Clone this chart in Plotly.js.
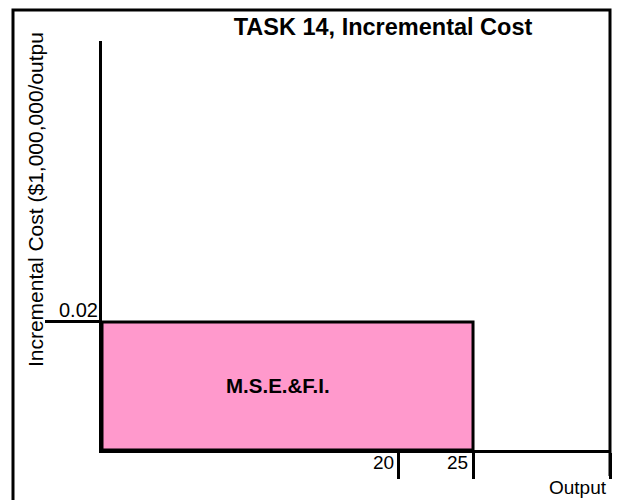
<!DOCTYPE html>
<html>
<head>
<meta charset="utf-8">
<script src="https://cdn.plot.ly/plotly-3.0.1.min.js"></script>
<style>html,body{margin:0;padding:0;background:#fff;}#chart{width:618px;height:500px;}</style>
</head>
<body>
<div id="chart"></div>
<script>
// Data
const segStart = [0];
const segEnd = [25];
const segCost = [0.02];
const segLabels = ['M.S.E.&F.I.'];
const xTickVals = [20, 25];
const xTickText = ['20', '25'];
const yTickVals = [0.02];
const yTickText = ['0.02'];
const xMax = 34.23;
const yMax = 0.0639;

const FONT = 'Liberation Sans, Arial, sans-serif';

const mid = segStart.map((s, i) => (s + segEnd[i]) / 2);
const widths = segStart.map((s, i) => segEnd[i] - s);

const trace = {
  type: 'bar',
  x: mid,
  y: segCost,
  width: widths,
  base: 0,
  marker: { color: '#FF99CC', line: { color: '#000', width: 3 } },
  hoverinfo: 'skip',
  showlegend: false
};

const annotations = [];
segLabels.forEach((t, i) => annotations.push({
  x: mid[i], y: segCost[i] / 2, xref: 'x', yref: 'y', text: '<b>' + t + '</b>',
  showarrow: false, xshift: -10, font: { family: FONT, size: 20.5, color: '#000' }
}));
xTickVals.forEach((v, i) => annotations.push({
  x: v, y: 0, xref: 'x', yref: 'paper', text: xTickText[i], showarrow: false,
  xanchor: 'right', yanchor: 'middle', xshift: -3, yshift: -12,
  font: { family: FONT, size: 19, color: '#000' }
}));
yTickVals.forEach((v, i) => annotations.push({
  x: 0, y: v, xref: 'paper', yref: 'y', text: yTickText[i], showarrow: false,
  xanchor: 'right', yanchor: 'middle', xshift: -2, yshift: 12,
  font: { family: FONT, size: 20, color: '#000' }
}));
annotations.push({
  x: 1, y: 0, xref: 'paper', yref: 'paper', text: 'Output', showarrow: false,
  xanchor: 'right', yanchor: 'middle', xshift: -1, yshift: -37,
  font: { family: FONT, size: 19, color: '#000' }
});
annotations.push({
  x: 0, y: 0.611, xref: 'paper', yref: 'paper', text: 'Incremental Cost ($1,000,000/outpu',
  showarrow: false, textangle: -90, xanchor: 'center', yanchor: 'middle', xshift: -67,
  font: { family: FONT, size: 21, color: '#000' }
});

const layout = {
  width: 618, height: 500,
  margin: { l: 102, r: 8, t: 41, b: 50, pad: 0 },
  paper_bgcolor: '#fff', plot_bgcolor: '#fff',
  title: {
    text: '<b>TASK 14, Incremental Cost</b>',
    x: 383 / 618, xanchor: 'center', y: 1 - 27 / 500, yanchor: 'middle',
    font: { family: FONT, size: 23.5, color: '#000' }
  },
  xaxis: {
    range: [0, xMax], showgrid: false, zeroline: false,
    showline: true, linecolor: '#000', linewidth: 3,
    ticks: 'outside', tickvals: xTickVals.concat([xMax]), ticklen: 26, tickwidth: 3, tickcolor: '#000',
    showticklabels: false, fixedrange: true
  },
  yaxis: {
    range: [0, yMax], showgrid: false, zeroline: false,
    showline: true, linecolor: '#000', linewidth: 3,
    ticks: 'outside', tickvals: yTickVals, ticklen: 54, tickwidth: 3, tickcolor: '#000',
    showticklabels: false, fixedrange: true
  },
  shapes: [{
    type: 'path', xref: 'paper', yref: 'paper',
    path: 'M -0.1752 -0.2 L -0.1752 1.0758 L 1 1.0758 L 1 -0.0636',
    line: { color: '#000', width: 3 }
  }],
  annotations: annotations,
  showlegend: false
};

Plotly.newPlot('chart', [trace], layout, { displayModeBar: false, staticPlot: true });
</script>
</body>
</html>
